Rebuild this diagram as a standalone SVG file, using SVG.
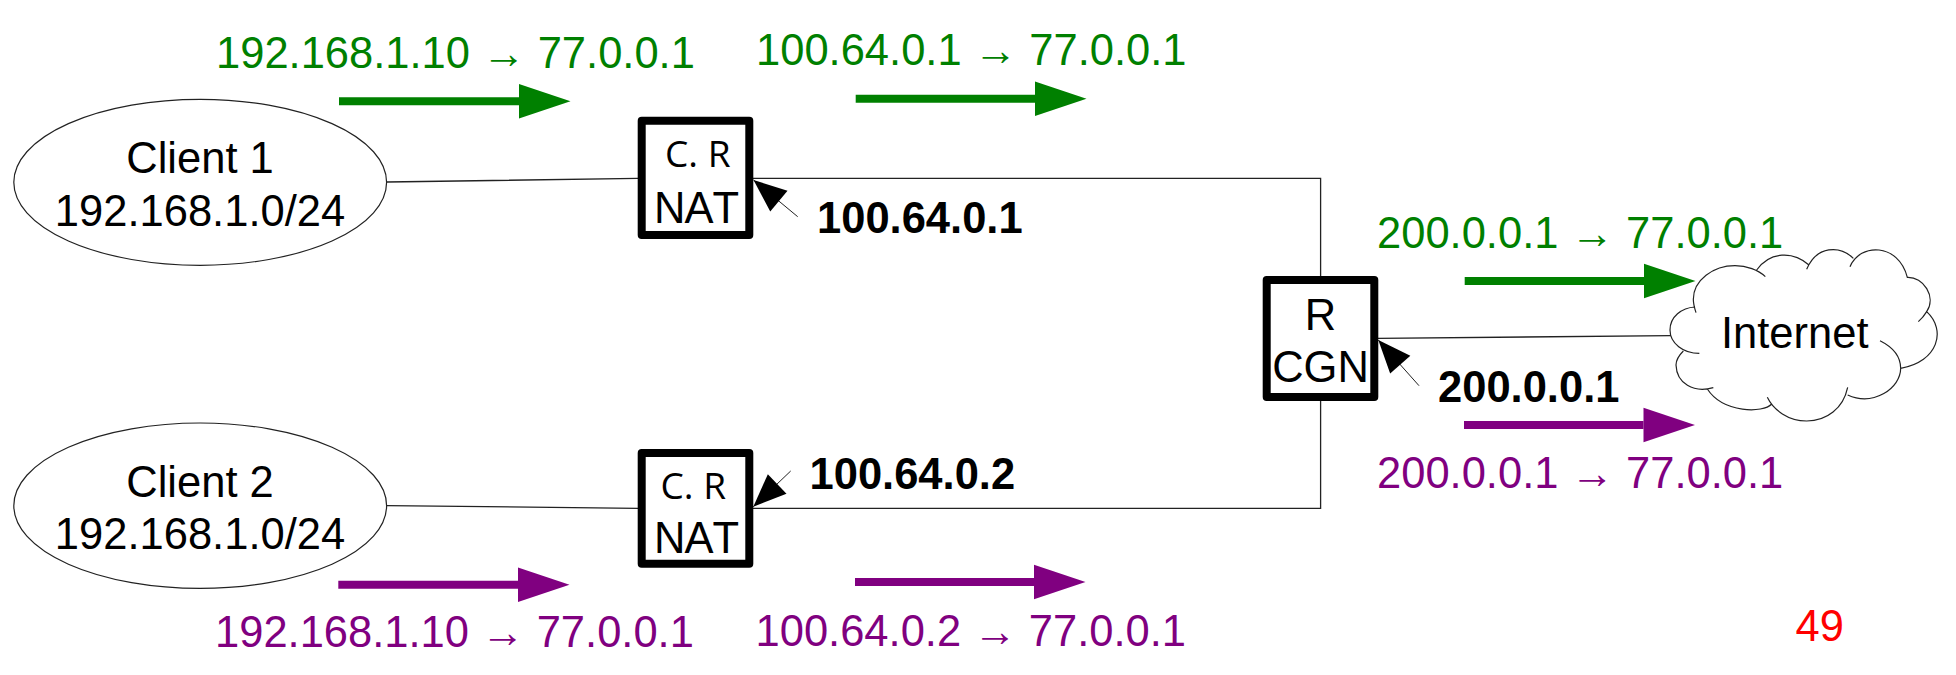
<svg xmlns="http://www.w3.org/2000/svg" width="1956" height="675" viewBox="0 0 1956 675">
<style>
text{font-family:"Liberation Sans",Arial,sans-serif;font-size:43.5px;fill:#000;font-kerning:none}
.mid{text-anchor:middle}
.b{font-weight:bold}
.g{fill:#008000}
.p{fill:#800080}
.cr{font-family:"Open Sans",sans-serif;font-size:37px}
.nat{letter-spacing:-1px}
.n{fill:#fff;stroke:#000;stroke-width:8;stroke-linejoin:round}
.e{fill:#fff;stroke:#222;stroke-width:1.2}
.w{fill:none;stroke:#222;stroke-width:1.3}
.s{fill:none;stroke:#222;stroke-width:1;marker-end:url(#sm)}
.tg{stroke:#008000;stroke-width:8;marker-end:url(#hg)}
.tp{stroke:#800080;stroke-width:8;marker-end:url(#hp)}
.red{fill:#f00}
</style>
<defs>
<marker id="hg" markerUnits="userSpaceOnUse" markerWidth="52" markerHeight="35" refX="0" refY="17.25" orient="auto" overflow="visible"><path d="M0 0L51.5 17.25L0 34.5z" fill="#008000"/></marker>
<marker id="hp" markerUnits="userSpaceOnUse" markerWidth="52" markerHeight="35" refX="0" refY="17.25" orient="auto" overflow="visible"><path d="M0 0L51.5 17.25L0 34.5z" fill="#800080"/></marker>
<marker id="sm" markerUnits="userSpaceOnUse" markerWidth="34" markerHeight="28" refX="33" refY="14" orient="auto" overflow="visible"><path d="M0 0.5L33 14L0 27.5z" fill="#000"/></marker>
</defs>
<g id="connectors">
<path class="w" d="M387 182L638 178.4M753 178.4H1320.6V276M1320.6 401V508.3H753M638 508.3L387 505.7M1378 338.3L1671 335.7"/>
<line class="s" x1="797.7" y1="216.7" x2="753.5" y2="180"/>
<line class="s" x1="790.7" y1="471" x2="753.3" y2="506.7"/>
<line class="s" x1="1419" y1="385.7" x2="1378.3" y2="340"/>
<line class="tg" x1="339" y1="101.3" x2="519" y2="101.3"/>
<line class="tg" x1="855.7" y1="98.7" x2="1035" y2="98.7"/>
<line class="tg" x1="1464.7" y1="281" x2="1644" y2="281"/>
<line class="tp" x1="338.3" y1="584.7" x2="518" y2="584.7"/>
<line class="tp" x1="855" y1="582" x2="1034" y2="582"/>
<line class="tp" x1="1464" y1="425" x2="1643.5" y2="425"/>
</g>
<g id="client1"><ellipse class="e" cx="200.2" cy="182.3" rx="186.4" ry="83"/><text class="mid" x="200" y="173">Client 1</text><text class="mid" x="200" y="225.7">192.168.1.0/24</text></g>
<g id="client2"><ellipse class="e" cx="200.2" cy="505.7" rx="186.4" ry="82.7"/><text class="mid" x="200" y="496.7">Client 2</text><text class="mid" x="200" y="549">192.168.1.0/24</text></g>
<g id="nat1"><rect class="n" x="641.7" y="120.7" width="107.6" height="114.3"/><text class="cr" x="665" y="166.7">C. R</text><text class="mid nat" x="696" y="222.7">NAT</text></g>
<g id="nat2"><rect class="n" x="641.7" y="453" width="107.6" height="110.7"/><text class="cr" x="660.5" y="499.3">C. R</text><text class="mid nat" x="696" y="552.7">NAT</text></g>
<g id="cgn"><rect class="n" x="1266.7" y="280" width="107.6" height="117"/><text class="mid" x="1320.5" y="330">R</text><text class="mid" x="1320.5" y="381.7">CGN</text></g>
<g id="internet">
<path transform="translate(1660 240) scale(.33333)" fill="none" stroke="#222" stroke-width="3.6" d="M108 218C102 200 100 190 100 178C100 120 160 77 225 77C260 77 295 90 316 110M290 90C330 33 400 33 447 75M440 88C470 16 540 16 580 55M570 80C600 8 715 8 742 112C790 110 830 170 800 215C860 270 835 365 722 385M800 215Q790 232 775 245M660 302C700 322 722 350 722 385C722 445 640 500 563 465M563 442C550 505 500 543 440 543C385 543 340 510 322 472M335 492C310 520 190 520 142 447M160 443C100 460 50 430 48 375C48 358 58 345 70 333M118 340C70 340 30 310 30 270C30 230 65 203 105 201"/>
<text x="1721" y="348.3">Internet</text>
</g>
<g id="labels">
<text class="g" x="216" y="67.7">192.168.1.10 → 77.0.0.1</text>
<text class="g" x="756" y="65">100.64.0.1 → 77.0.0.1</text>
<text class="g" x="1377" y="247.7">200.0.0.1 → 77.0.0.1</text>
<text class="p" x="1377" y="487.7">200.0.0.1 → 77.0.0.1</text>
<text class="p" x="215" y="647.3">192.168.1.10 → 77.0.0.1</text>
<text class="p" x="755.5" y="646">100.64.0.2 → 77.0.0.1</text>
<text class="b" x="817" y="233.3">100.64.0.1</text>
<text class="b" x="809.5" y="489">100.64.0.2</text>
<text class="b" x="1438" y="402.3">200.0.0.1</text>
<text class="red" x="1795.5" y="641">49</text>
</g>
</svg>
